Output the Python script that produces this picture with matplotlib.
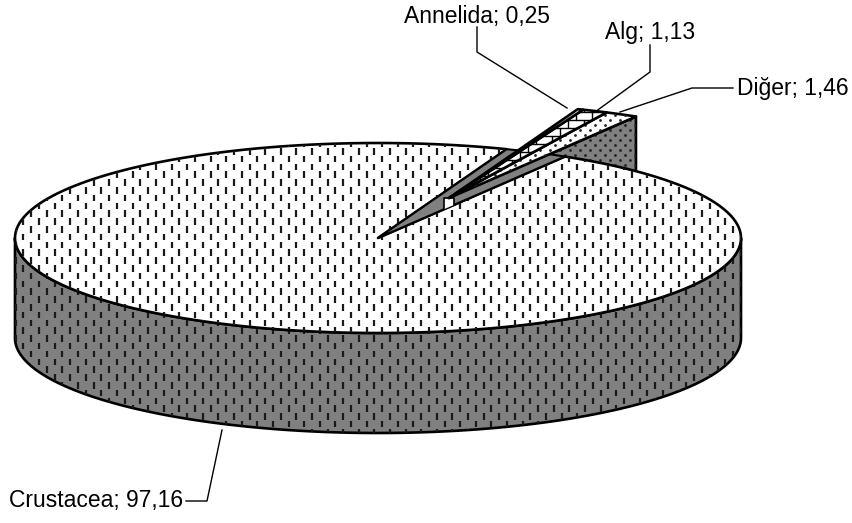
import numpy as np
import matplotlib
matplotlib.use('Agg')
import matplotlib.pyplot as plt
from matplotlib.patches import Polygon
from matplotlib.collections import LineCollection

names = ['Crustacea', 'Annelida', 'Alg', 'Diğer']
values = [97.16, 0.25, 1.13, 1.46]
value_text = ['97,16', '0,25', '1,13', '1,46']

plt.rcParams['font.family'] = ['Liberation Sans', 'DejaVu Sans']

W, H = 852, 523
cx, cy, rx, ry, depth = 378, 238, 363, 95, 100
off_x, off_y = 71, -40
start = 59.0
GREY = '#808080'


def rim(a0, a1, dx=0, dy=0, n=200):
    t = np.radians(np.linspace(a0, a1, n))
    return np.column_stack([cx + dx + rx * np.cos(t), cy + dy - ry * np.sin(t)])


def wedge(a0, a1, dx=0, dy=0):
    return np.vstack([[cx + dx, cy + dy], rim(a0, a1, dx, dy)])


def dashes(patch, lw=1.6):
    # staggered vertical dashes like the office pattern fill
    segs = []
    for i, x in enumerate(np.arange(0, W, 7.8)):
        for y in np.arange(-8 + (i % 2) * 7.8, H, 15.6):
            segs.append([(x, y), (x, y + 6.5)])
    lc = LineCollection(segs, colors='#1a1a1a', linewidths=lw, zorder=patch.get_zorder())
    ax.add_collection(lc)
    lc.set_clip_path(patch)


def dots(patch):
    xs, ys = [], []
    for i, y in enumerate(np.arange(0, H, 5)):
        for x in np.arange((i % 2) * 5, W, 10):
            xs.append(x)
            ys.append(y)
    s = ax.scatter(xs, ys, s=4, c='#222222', linewidths=0, zorder=patch.get_zorder())
    s.set_clip_path(patch)


def bricks(patch):
    segs = []
    for i, y in enumerate(np.arange(0, H, 8)):
        segs.append([(0, y), (W, y)])
        for x in np.arange((i % 2) * 8, W, 16):
            segs.append([(x, y), (x, y + 8)])
    lc = LineCollection(segs, colors='black', linewidths=1.0, zorder=patch.get_zorder())
    ax.add_collection(lc)
    lc.set_clip_path(patch)


def poly(pts, fc, z, lw=1.9):
    p = Polygon(pts, closed=True, facecolor=fc, edgecolor='black', linewidth=lw,
                joinstyle='round', zorder=z)
    ax.add_patch(p)
    return p


fig = plt.figure(figsize=(W / 100, H / 100), dpi=100)
ax = fig.add_axes([0, 0, 1, 1])
ax.set_xlim(0, W)
ax.set_ylim(H, 0)
ax.axis('off')

# slice angles come from the values, small slices go anticlockwise from start
small = [values[3], values[2], values[1]]
angles = start + np.cumsum([0] + [v * 3.6 for v in small])
a_end = angles[-1]

# wall of the pulled out slices, behind the big slice
outer = rim(angles[0], angles[0], off_x, off_y, 2)[0]
wall = [(cx + off_x, cy + off_y), outer, (outer[0], outer[1] + depth), (cx + off_x, cy + off_y + depth)]
p = poly(wall, GREY, 1)
dots(p)

# big slice: side wall then top
side = np.vstack([rim(180, 360), rim(360, 180, 0, depth)])
p = poly(side, GREY, 2)
dashes(p)
top = wedge(a_end, start + 360)
p = poly(top, 'white', 3)
dashes(p)

# inside of the notch
notch = poly(wedge(start, a_end), GREY, 4, lw=1.5)

# small front wall of the slice tips, only seen inside the notch
tip_x, tip_y = cx + off_x, cy + off_y
tip_wall = poly([(tip_x - 5, tip_y), (tip_x + 5, tip_y), (tip_x + 5, tip_y + depth), (tip_x - 5, tip_y + depth)],
                'white', 4.5, lw=1.2)
tip_wall.set_clip_path(notch)

# pulled out slice tops
for i in range(3):
    p = poly(wedge(angles[i], angles[i + 1], off_x, off_y), 'white', 5 + i)
    if i == 0:
        dots(p)
    if i == 1:
        bricks(p)

label_x = [9, 404, 605, 737]
label_y = [500, 17, 33, 88]
leaders = [
    [(186, 501), (207, 501), (222, 430)],
    [(477, 27), (477, 52), (567, 108)],
    [(650, 45), (650, 72), (595, 112)],
    [(733, 88), (692, 88), (620, 112)],
]
for i, name in enumerate(names):
    ax.text(label_x[i], label_y[i], f'{name}; {value_text[i]}', fontsize=16.5,
            ha='left', va='center', color='black', zorder=10)
    xs, ys = zip(*leaders[i])
    ax.plot(xs, ys, color='black', lw=1.0, zorder=9)

fig.savefig('out.png', dpi=100)
